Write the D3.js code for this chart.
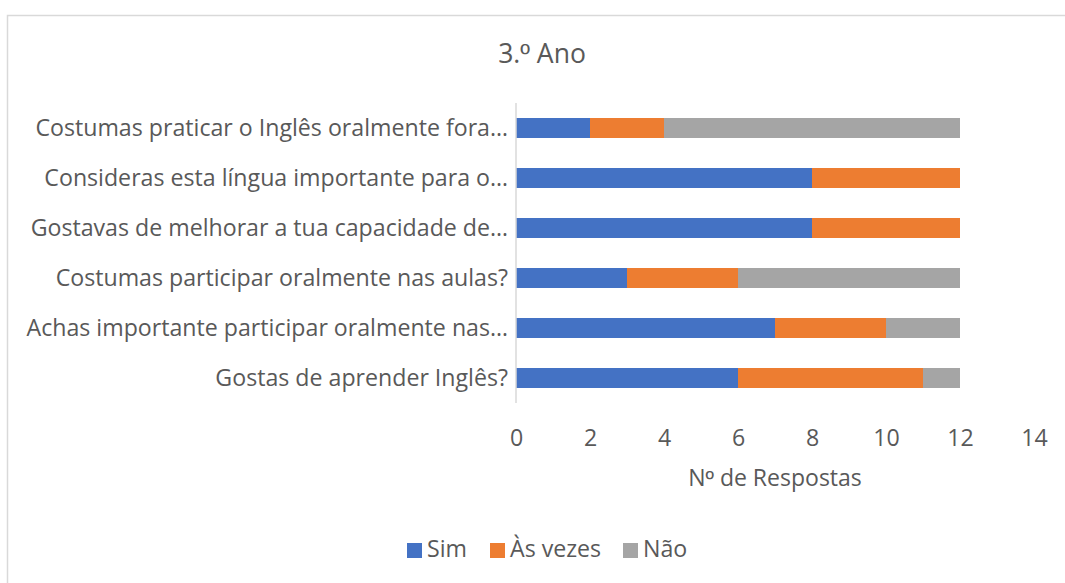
<!DOCTYPE html>
<html>
<head>
<meta charset="utf-8">
<script src="https://cdn.jsdelivr.net/npm/d3@7"></script>
<style>
  html, body { margin: 0; padding: 0; background: #fff; }
  svg { display: block; }
  text { font-family: "Open Sans", sans-serif; fill: #595959; }
  .ord { font-family: "Liberation Sans", "DejaVu Sans", sans-serif; }
</style>
</head>
<body>
<svg id="chart" width="1065" height="583"></svg>
<script>
const categories = [
  "Costumas praticar o Inglês oralmente fora…",
  "Consideras esta língua importante para o…",
  "Gostavas de melhorar a tua capacidade de…",
  "Costumas participar oralmente nas aulas?",
  "Achas importante participar oralmente nas…",
  "Gostas de aprender Inglês?"
];
const seriesNames = ["Sim", "Às vezes", "Não"];
const simValues    = [2, 8, 8, 3, 7, 6];
const asVezesValues = [2, 4, 4, 3, 3, 5];
const naoValues    = [8, 0, 0, 6, 2, 1];
const xTicks = [0, 2, 4, 6, 8, 10, 12, 14];
const colors = ["#4472C4", "#ED7D31", "#A5A5A5"];
const title = "3.º Ano";
const xTitle = "Nº de Respostas";

const FONT = "'Open Sans', sans-serif";
const svg = d3.select("#chart");

// fit a font size so that a text reaches a target width
function fitSize(str, target, base) {
  const t = svg.append("text").attr("font-size", base).style("font-family", FONT).text(str);
  const w = t.node().getComputedTextLength();
  t.remove();
  return base * target / w;
}
// write a string, drawing the ordinal sign in a font whose º is underlined
function writeWithOrdinal(sel, str) {
  str.split(/(º)/).filter(s => s.length).forEach(part => {
    const ts = sel.append("tspan").text(part);
    if (part === "º") ts.attr("class", "ord");
  });
}
const labelSize = fitSize(categories[0], 473, 20);
const titleSize = fitSize(title, 88, 20);
const xTitleSize = fitSize(xTitle, 174, 20);

// chart border
svg.append("rect")
  .attr("x", 7.5).attr("y", 15.5)
  .attr("width", 1090).attr("height", 600)
  .attr("fill", "#fff").attr("stroke", "#d9d9d9").attr("stroke-width", 1.5);

const x = d3.scaleLinear().domain([0, 14]).range([516, 1034]);
const y = d3.scaleBand().domain(categories).range([103, 403]).paddingInner(0.6).paddingOuter(0.3);

const rows = categories.map((c, i) => ({ cat: c, Sim: simValues[i], "Às vezes": asVezesValues[i], "Não": naoValues[i] }));
const stacked = d3.stack().keys(seriesNames)(rows);

// bars
svg.append("g").selectAll("g")
  .data(stacked)
  .join("g")
  .attr("fill", (d, i) => colors[i])
  .selectAll("rect")
  .data(d => d)
  .join("rect")
  .attr("x", d => x(d[0]))
  .attr("y", d => y(d.data.cat))
  .attr("width", d => x(d[1]) - x(d[0]))
  .attr("height", y.bandwidth());

// vertical axis line
svg.append("line")
  .attr("x1", x(0)).attr("x2", x(0))
  .attr("y1", 103).attr("y2", 403)
  .attr("stroke", "#d9d9d9").attr("stroke-width", 1.5);

// category labels
const yAxis = svg.append("g")
  .attr("transform", `translate(${x(0)},0)`)
  .call(d3.axisLeft(y).tickSize(0).tickPadding(8));
yAxis.select(".domain").remove();
yAxis.selectAll("text")
  .attr("font-size", labelSize)
  .attr("dy", "0.35em")
  .style("font-family", FONT)
  .attr("fill", "#595959");

// x tick labels
const xAxis = svg.append("g")
  .attr("transform", "translate(0,403)")
  .call(d3.axisBottom(x).tickValues(xTicks).tickSize(0).tickPadding(0));
xAxis.select(".domain").remove();
xAxis.selectAll("text")
  .attr("y", 43).attr("dy", 0)
  .attr("font-size", labelSize)
  .style("font-family", FONT)
  .attr("fill", "#595959");

// title
const titleText = svg.append("text")
  .attr("x", 542).attr("y", 63)
  .attr("text-anchor", "middle")
  .attr("font-size", titleSize);
writeWithOrdinal(titleText, title);

// x axis title
const xTitleText = svg.append("text")
  .attr("x", (x(0) + x(14)) / 2).attr("y", 486)
  .attr("text-anchor", "middle")
  .attr("font-size", xTitleSize);
writeWithOrdinal(xTitleText, xTitle);

// legend
const legendX = [407, 490, 623];
const legend = svg.append("g");
seriesNames.forEach((name, i) => {
  legend.append("rect")
    .attr("x", legendX[i]).attr("y", 543)
    .attr("width", 15).attr("height", 15)
    .attr("fill", colors[i]);
  legend.append("text")
    .attr("x", legendX[i] + 20).attr("y", 557)
    .attr("font-size", labelSize)
    .text(name);
});
</script>
</body>
</html>
